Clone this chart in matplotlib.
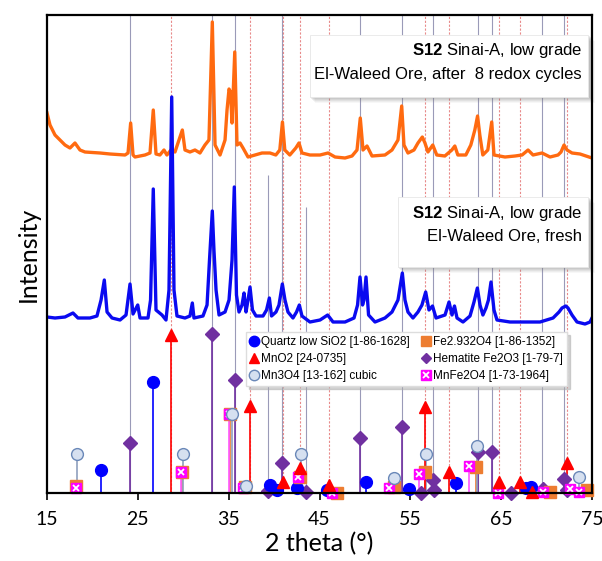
import matplotlib
matplotlib.use("Agg")
import matplotlib.pyplot as plt
from matplotlib.patches import Rectangle
from matplotlib.lines import Line2D

plt.rcParams['mathtext.fontset'] = 'custom'
plt.rcParams['mathtext.rm'] = 'Liberation Sans'
plt.rcParams['mathtext.bf'] = 'Liberation Sans:bold'

# ---------------- data ----------------
orange_x = [15.0, 15.33, 15.88, 16.98, 17.53, 18.08, 18.63, 19.18, 20.84, 21.94, 23.59, 23.92, 24.21, 24.47,
            24.69, 25.79, 26.34, 26.70, 27.0, 27.43, 27.88, 28.2, 28.65, 29.09, 29.53, 29.90, 30.19, 30.74,
            31.29, 31.84, 32.39, 32.83, 33.20, 33.50, 34.05, 34.60, 34.82, 35.04, 35.20, 35.37, 35.67, 35.92,
            36.25, 36.58, 37.13, 37.90, 38.67, 39.55, 40.19, 40.63, 40.92, 41.18, 41.73, 42.39, 42.74, 43.07,
            43.95, 45.06, 45.94, 46.71, 47.81, 48.58, 49.13, 49.49, 49.79, 50.23, 50.78, 52.21, 52.98, 53.64,
            54.05, 54.30, 54.74, 55.40, 55.84, 56.32, 56.61, 56.94, 57.47, 57.91, 58.80, 59.57, 59.90, 60.23,
            61.11, 61.66, 62.10, 62.40, 62.65, 62.98, 63.53, 63.96, 64.21, 65.42, 66.53, 67.30, 67.96, 68.51,
            69.50, 70.38, 71.26, 71.59, 71.92, 72.25, 72.80, 73.68, 75.0]
orange_y = [380, 368, 358, 348, 345, 350, 343, 341, 340, 339, 338, 340, 370, 338,
            336, 338, 340, 383, 339, 338, 343, 338, 343, 341, 353, 363, 343, 341,
            343, 340, 348, 353, 471, 348, 338, 353, 383, 404, 401, 370, 441, 348,
            350, 345, 336, 338, 340, 340, 338, 343, 371, 343, 338, 345, 350, 340,
            338, 338, 340, 336, 335, 337, 343, 375, 343, 347, 337, 338, 343, 353,
            387, 348, 340, 343, 350, 356, 350, 341, 348, 338, 337, 343, 347, 338,
            338, 348, 363, 377, 358, 338, 343, 371, 338, 336, 337, 338, 343, 338,
            340, 336, 338, 341, 348, 343, 340, 339, 335]

blue_x = [15.0, 15.88, 16.98, 17.86, 18.41, 19.73, 20.50, 20.95, 21.31, 21.61, 22.16, 23.04, 23.70, 24.14,
          24.47, 24.99, 25.24, 26.12, 26.40, 26.70, 27.0, 27.66, 28.10, 28.43, 28.73, 28.98, 29.31, 30.19,
          30.74, 31.0, 31.18, 32.17, 32.62, 32.89, 33.20, 33.38, 33.61, 33.94, 34.60, 35.04, 35.37, 35.62,
          35.86, 36.14, 36.47, 36.69, 36.91, 37.13, 37.35, 37.62, 38.01, 38.78, 39.17, 39.48, 39.72, 40.21,
          40.54, 40.91, 41.20, 41.53, 42.08, 42.47, 42.78, 43.07, 43.95, 45.06, 45.90, 46.49, 47.81, 48.80,
          49.19, 49.46, 49.74, 49.90, 50.12, 50.40, 51.11, 52.21, 52.98, 53.64, 54.12, 54.41, 54.74, 55.29,
          55.84, 56.28, 56.69, 57.05, 57.44, 57.83, 58.82, 59.26, 59.59, 59.86, 60.14, 60.80, 61.57, 62.01,
          62.38, 62.67, 62.99, 63.33, 63.60, 63.88, 64.21, 64.54, 65.97, 67.63, 69.28, 70.71, 71.37, 71.70,
          72.11, 72.36, 72.80, 73.35, 74.23, 74.78, 75.0]
blue_y = [176, 175, 176, 180, 175, 175, 177, 193, 213, 181, 175, 173, 178, 209,
          179, 188, 175, 175, 193, 304, 183, 178, 173, 203, 396, 203, 177, 175,
          177, 190, 175, 177, 188, 233, 282, 243, 203, 178, 181, 193, 233, 306,
          198, 181, 188, 200, 181, 193, 206, 183, 177, 177, 183, 195, 177, 181,
          188, 209, 193, 181, 175, 181, 188, 177, 171, 173, 178, 171, 171, 175,
          188, 216, 188, 193, 216, 178, 171, 175, 181, 193, 220, 193, 181, 175,
          181, 188, 201, 183, 187, 175, 178, 191, 178, 187, 175, 171, 177, 191,
          205, 188, 178, 185, 193, 211, 183, 173, 171, 171, 171, 175, 181, 185,
          187, 185, 178, 171, 169, 171, 175]

# reference lines (full height)
hem_ref = [24.15, 33.2, 35.65, 40.9, 49.5, 54.05, 57.5, 62.4, 64.0, 69.55, 71.9]
mno2_ref = [28.7, 37.3, 41.0, 42.8, 46.05, 56.6, 59.3, 64.75, 67.1, 72.2]
partial_ref_x = [39.3, 43.55]
partial_ref_top = [318, 286]

quartz_x = [20.9, 26.65, 39.5, 40.3, 42.5, 45.8, 50.15, 54.9, 60.0, 67.75, 68.3]
quartz_h = [23, 111, 8, 3, 5, 3, 11, 4, 10, 5, 6]

mno2_x = [28.7, 37.3, 41.0, 42.85, 46.05, 56.6, 59.3, 64.75, 67.1, 68.35, 72.2]
mno2_h = [158, 87, 11, 25, 8, 86, 21, 11, 11, 1, 30]

mn3o4_x = [18.25, 30.0, 35.35, 36.9, 43.0, 53.25, 56.7, 62.3, 73.6]
mn3o4_h = [39, 39, 79, 7, 39, 15, 39, 47, 16]

fe_x = [18.2, 29.9, 35.2, 36.8, 42.85, 46.9, 53.2, 56.6, 62.2, 70.4, 74.5]
fe_h = [7, 21, 79, 6, 16, 0, 6, 21, 26, 1, 3]

hem_x = [24.15, 33.2, 35.65, 39.3, 40.9, 43.55, 49.5, 54.05, 56.2, 57.45, 57.6, 62.45, 64.0, 66.1, 69.6,
         71.95, 72.25]
hem_h = [50, 159, 113, 2, 30, 1, 55, 66, 0, 13, 3, 41, 41, 0, 4, 14, 3]

mnfe_x = [18.15, 29.7, 35.0, 36.55, 42.6, 46.4, 52.6, 56.0, 61.5, 64.6, 69.6, 72.6, 73.6]
mnfe_h = [5, 21, 79, 5, 16, 0, 5, 19, 27, 0, 1, 4, 1]

labels = ["Quartz low SiO2 [1-86-1628]", "MnO2 [24-0735]", "Mn3O4 [13-162] cubic",
          "Fe2.932O4 [1-86-1352]", "Hematite Fe2O3 [1-79-7]", "MnFe2O4 [1-73-1964]"]
xticks = [15, 25, 35, 45, 55, 65, 75]

# ---------------- figure ----------------
fig = plt.figure(figsize=(6.02, 5.61), dpi=100)
ax = fig.add_axes([47 / 602, (561 - 493) / 561, 545 / 602, 478 / 561])
ax.set_xlim(15, 75)
ax.set_ylim(0, 478)

ax.vlines(hem_ref, 0, 478, color='#9a9ab8', lw=0.8, zorder=1)
ax.vlines(mno2_ref, 0, 478, color='#e88a8a', lw=0.8, linestyles=(0, (2, 1.5)), zorder=1)
ax.vlines(partial_ref_x, 0, partial_ref_top, color='#9a9ab8', lw=0.8, zorder=1)

ax.plot(orange_x, orange_y, color='#ff6a10', lw=2.4, zorder=3, solid_joinstyle='round')
ax.plot(blue_x, blue_y, color='#0a0af0', lw=2.4, zorder=3, solid_joinstyle='round')

ms = 8.5
# stems
ax.vlines(hem_x, 0, hem_h, color='#7030a0', lw=1.2, zorder=4)
ax.vlines(quartz_x, 0, quartz_h, color='#0000ff', lw=1.2, zorder=4)
ax.vlines(fe_x, 0, fe_h, color='#ed7d31', lw=1.2, zorder=4)
ax.vlines(mnfe_x, 0, mnfe_h, color='#ff55ff', lw=1.2, zorder=4)
ax.vlines(mn3o4_x, 0, mn3o4_h, color='#8fa0be', lw=1.2, zorder=4)
ax.vlines(mno2_x, 0, mno2_h, color='#ff0000', lw=1.2, zorder=4)

ax.plot(hem_x, hem_h, ls='none', marker='D', ms=7.5, color='#7030a0', clip_on=False, zorder=5)
ax.plot(quartz_x, quartz_h, ls='none', marker='o', ms=ms, color='#0000ff', clip_on=False, zorder=5)
ax.plot(fe_x, fe_h, ls='none', marker='s', ms=ms, color='#ed7d31', clip_on=False, zorder=5)
ax.plot(mnfe_x, mnfe_h, ls='none', marker='s', ms=7, color='#ff00ff', clip_on=False, zorder=6)
ax.plot(mnfe_x, mnfe_h, ls='none', marker='x', ms=5, mew=1.3, color='white', clip_on=False, zorder=6)
ax.plot(mn3o4_x, mn3o4_h, ls='none', marker='o', ms=ms, mfc='#d6e0f0', mec='#6a88b8', mew=1.0,
        clip_on=False, zorder=6)
ax.plot(mno2_x, mno2_h, ls='none', marker='^', ms=ms, color='#ff0000', clip_on=False, zorder=6)

# legend handles (no stems)
lh_q = Line2D([], [], ls='none', marker='o', ms=7.5, color='#0000ff')
lh_mno2 = Line2D([], [], ls='none', marker='^', ms=7.5, color='#ff0000')
lh_mn3 = Line2D([], [], ls='none', marker='o', ms=7.5, mfc='#d6e0f0', mec='#6a88b8')
lh_fe = Line2D([], [], ls='none', marker='s', ms=7.5, color='#ed7d31')
lh_hem = Line2D([], [], ls='none', marker='D', ms=5.5, color='#7030a0')
lh_mf1 = Line2D([], [], ls='none', marker='s', ms=7, color='#ff00ff')
lh_mf2 = Line2D([], [], ls='none', marker='x', ms=5, mew=1.3, color='white')

leg = ax.legend([lh_q, lh_mno2, lh_mn3, lh_fe, lh_hem, (lh_mf1, lh_mf2)], labels, ncol=2,
                loc='upper left', bbox_to_anchor=((246 - 47) / 545, (493 - 332) / 478),
                prop={'family': 'Liberation Sans', 'size': 8.5}, handlelength=0.7, handletextpad=0.25,
                columnspacing=1.0, labelspacing=0.42, borderpad=0.35, borderaxespad=0,
                frameon=True, fancybox=False, shadow={'color': '#aaaaaa', 'alpha': 0.5},
                framealpha=1, edgecolor='#dddddd')
leg.set_zorder(10)

# text boxes with soft shadows
def box(x0, y0, x1, y1):
    px = 1 / 545
    py = 1 / 478
    for i, a in zip(range(6, 0, -1), [0.06, 0.08, 0.10, 0.12, 0.14, 0.16]):
        ax.add_patch(Rectangle((x0 + (i - 1) * px, y0 - i * py), x1 - x0 + 1.5 * px, y1 - y0,
                               transform=ax.transAxes, facecolor='#808080', edgecolor='none', alpha=a,
                               zorder=7, clip_on=False))
    ax.add_patch(Rectangle((x0, y0), x1 - x0, y1 - y0, transform=ax.transAxes,
                           facecolor='white', edgecolor='#e8e8e8', lw=0.6, zorder=8, clip_on=False))

box(0.4826, 0.8285, 0.9927, 0.9582)
box(0.644, 0.4728, 0.9927, 0.6192)

tkw = dict(transform=ax.transAxes, ha='right', va='center', family='Liberation Sans', fontsize=12, zorder=9)
ax.text(0.9817, 0.9247, r"$\mathbf{S12}$ Sinai-A, low grade", **tkw)
ax.text(0.9817, 0.8745, "El-Waleed Ore, after  8 redox cycles", **tkw)
ax.text(0.9817, 0.5837, r"$\mathbf{S12}$ Sinai-A, low grade", **tkw)
ax.text(0.9817, 0.5356, "El-Waleed Ore, fresh", **tkw)

for s in ax.spines.values():
    s.set_linewidth(1.6)
    s.set_zorder(12)
ax.set_xticks(xticks)
ax.set_xticklabels([str(t) for t in xticks], family='Lato', fontsize=14)
ax.tick_params(axis='x', direction='out', length=5, width=1.2, pad=8)
ax.set_yticks([])
ax.set_xlabel("2 theta (°)", family='Lato', fontsize=18, labelpad=3)
ax.set_ylabel("Intensity", family='Lato', fontsize=18, labelpad=5)

fig.savefig("out.png", dpi=100)
